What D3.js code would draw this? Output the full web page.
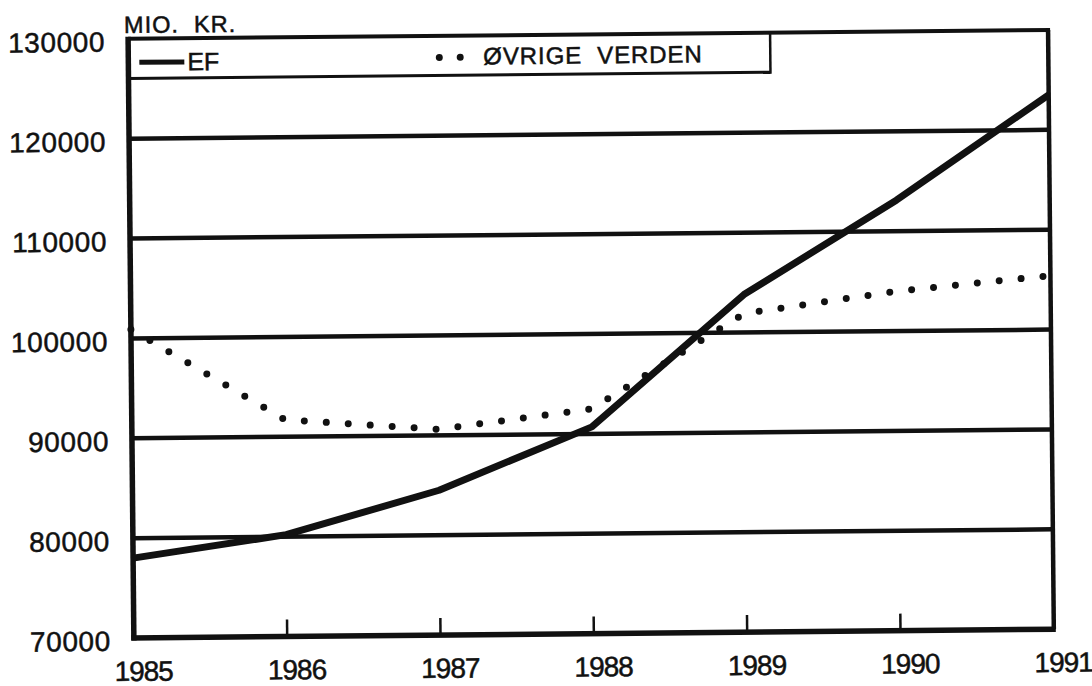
<!DOCTYPE html>
<html>
<head>
<meta charset="utf-8">
<script src="https://cdn.jsdelivr.net/npm/d3@7"></script>
<style>
  body { margin: 0; background: #fff; }
  svg { display: block; }
  text { font-family: "Liberation Sans", Arial, sans-serif; fill: #111; stroke: #111; stroke-width: 0.5px; }
</style>
</head>
<body>
<div id="chart"></div>
<script>
// data
var years = [1985, 1986, 1987, 1988, 1989, 1990, 1991];
var ef = [78000, 80200, 84500, 90700, 103800, 113100, 123500];
var ovrige = [100900, 91700, 90600, 92500, 101900, 104000, 105400];
var yTicks = [70000, 80000, 90000, 100000, 110000, 120000, 130000];
var gridValues = [80000, 90000, 100000, 110000, 120000];
var seriesNames = ["EF", "ØVRIGE  VERDEN"];

var width = 1092, height = 686;
var plotLeft = 131, plotRight = 1051, plotTop = 34.4, plotBottom = 633.6;
var ink = "#111";

var svg = d3.select("#chart").append("svg")
    .attr("width", width)
    .attr("height", height);

// the scan is a little crooked, so turn the whole drawing a bit
var g = svg.append("g")
    .attr("transform", "rotate(-0.55, 590, 338)");

var x = d3.scaleLinear().domain([1985, 1991]).range([plotLeft, plotRight]);
var y = d3.scaleLinear().domain([70000, 130000]).range([plotBottom, plotTop]);

// grid lines
g.append("g").selectAll("line.grid")
    .data(gridValues)
    .enter()
    .append("line")
    .attr("class", "grid")
    .attr("x1", plotLeft)
    .attr("x2", plotRight)
    .attr("y1", function(d){ return y(d); })
    .attr("y2", function(d){ return y(d); })
    .attr("stroke", ink)
    .attr("stroke-width", 4.5);

// small ticks inside bottom axis
g.append("g").selectAll("line.tick")
    .data(years.slice(1, -1))
    .enter()
    .append("line")
    .attr("x1", function(d){ return x(d); })
    .attr("x2", function(d){ return x(d); })
    .attr("y1", plotBottom)
    .attr("y2", plotBottom - 17)
    .attr("stroke", ink)
    .attr("stroke-width", 2.5);

// frame: left and bottom heavy, top and right a bit lighter
g.append("line").attr("x1", plotLeft).attr("x2", plotLeft).attr("y1", plotTop - 2).attr("y2", plotBottom + 2.5)
    .attr("stroke", ink).attr("stroke-width", 5.5);
g.append("line").attr("x1", plotLeft - 2.5).attr("x2", plotRight + 2).attr("y1", plotBottom).attr("y2", plotBottom)
    .attr("stroke", ink).attr("stroke-width", 5.5);
g.append("line").attr("x1", plotLeft).attr("x2", plotRight + 2).attr("y1", plotTop).attr("y2", plotTop)
    .attr("stroke", ink).attr("stroke-width", 4);
g.append("line").attr("x1", plotRight).attr("x2", plotRight).attr("y1", plotTop).attr("y2", plotBottom)
    .attr("stroke", ink).attr("stroke-width", 4.5);

// legend box
var legendBottom = 74, legendRight = 773;
g.append("line").attr("x1", plotLeft).attr("x2", legendRight).attr("y1", legendBottom).attr("y2", legendBottom)
    .attr("stroke", ink).attr("stroke-width", 3);
g.append("line").attr("x1", legendRight).attr("x2", legendRight).attr("y1", plotTop).attr("y2", legendBottom + 1.5)
    .attr("stroke", ink).attr("stroke-width", 2.5);

g.append("line").attr("x1", 142).attr("x2", 187).attr("y1", 58).attr("y2", 58)
    .attr("stroke", ink).attr("stroke-width", 5);
g.append("text").attr("x", 190).attr("y", 66.5)
    .style("font-size", "25px")
    .text(seriesNames[0]);

g.append("line").attr("x1", 442).attr("x2", 463).attr("y1", 56).attr("y2", 56)
    .attr("stroke", ink).attr("stroke-width", 7)
    .attr("stroke-linecap", "round")
    .attr("stroke-dasharray", "0 20.9");
g.append("text").attr("x", 486).attr("y", 63.5)
    .style("font-size", "24px")
    .style("letter-spacing", "0.9px")
    .attr("xml:space", "preserve")
    .text(seriesNames[1]);

// unit label
g.append("text").attr("x", 127).attr("y", 28.5)
    .style("font-size", "23.5px")
    .style("letter-spacing", "1px")
    .attr("xml:space", "preserve")
    .text("MIO.  KR.");

// y axis labels
var yAxis = d3.axisLeft(y).tickValues(yTicks).tickSize(0).tickPadding(23)
    .tickFormat(function(d){ return String(d); });
var yg = g.append("g").attr("transform", "translate(" + plotLeft + ",0)").call(yAxis);
yg.select(".domain").remove();
yg.selectAll("text")
    .attr("dy", "0.72em")
    .attr("y", -8)
    .style("font-family", "\"Liberation Sans\", Arial, sans-serif")
    .style("font-size", "28px")
    .style("letter-spacing", "0.6px")
    .attr("fill", ink);

// x axis labels
var xAxis = d3.axisBottom(x).tickValues(years).tickSize(0).tickPadding(23)
    .tickFormat(d3.format("d"));
var xg = g.append("g").attr("transform", "translate(9," + plotBottom + ")").call(xAxis);
xg.select(".domain").remove();
xg.selectAll("text")
    .style("font-family", "\"Liberation Sans\", Arial, sans-serif")
    .style("font-size", "28px")
    .style("letter-spacing", "-1px")
    .attr("fill", ink);

// series
var line = d3.line()
    .x(function(d, i){ return x(years[i]); })
    .y(function(d){ return y(d); });

g.append("path")
    .datum(ovrige)
    .attr("d", line)
    .attr("fill", "none")
    .attr("stroke", ink)
    .attr("stroke-width", 7)
    .attr("stroke-linecap", "round")
    .attr("stroke-dasharray", "0 22");

g.append("path")
    .datum(ef)
    .attr("d", line)
    .attr("fill", "none")
    .attr("stroke", ink)
    .attr("stroke-width", 7)
    .attr("stroke-linejoin", "round");
</script>
</body>
</html>
